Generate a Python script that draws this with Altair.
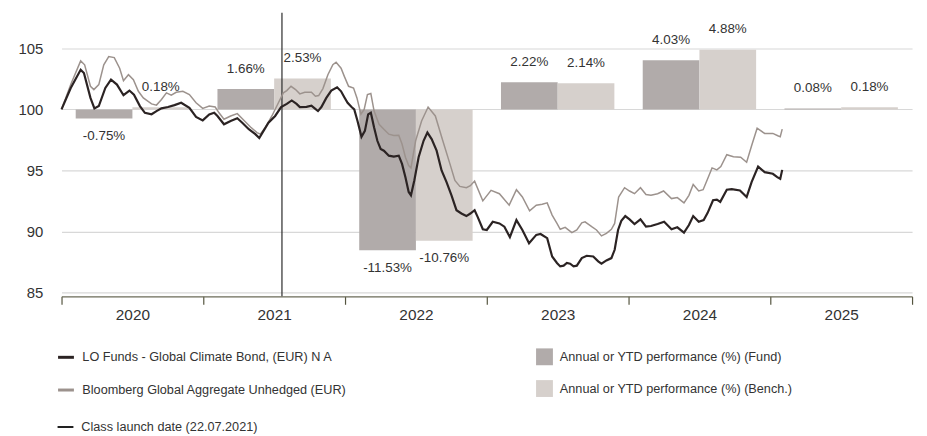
import altair as alt
import pandas as pd

# ---------------- data ----------------
years = [2020, 2021, 2022, 2023, 2024, 2025]
fund_perf = [-0.75, 1.66, -11.53, 2.22, 4.03, 0.08]
bench_perf = [0.18, 2.53, -10.76, 2.14, 4.88, 0.18]

fund_name = "LO Funds - Global Climate Bond, (EUR) N A"
bench_name = "Bloomberg Global Aggregate Unhedged (EUR)"
fund_bar_name = "Annual or YTD performance (%) (Fund)"
bench_bar_name = "Annual or YTD performance (%) (Bench.)"
launch_name = "Class launch date (22.07.2021)"
launch_t = [2021.555]  # 22.07.2021 as decimal year

year_ticks = [2020, 2021, 2022, 2023, 2024, 2025, 2026]
y_ticks = [85, 90, 95, 100, 105]

# observation times (decimal years) and index values
fund_t = [2020.000, 2020.065, 2020.135, 2020.158, 2020.204, 2020.232, 2020.263, 2020.309, 2020.349, 2020.391,
          2020.437, 2020.479, 2020.511, 2020.553, 2020.588, 2020.635, 2020.670, 2020.705, 2020.751, 2020.797,
          2020.844, 2020.902, 2020.949, 2020.996, 2021.042, 2021.077, 2021.100, 2021.146, 2021.193, 2021.240,
          2021.275, 2021.321, 2021.367, 2021.395, 2021.425, 2021.460, 2021.507, 2021.549, 2021.589, 2021.624,
          2021.658, 2021.681, 2021.728, 2021.763, 2021.786, 2021.809, 2021.833, 2021.868, 2021.903, 2021.944,
          2021.972, 2021.995, 2022.018, 2022.046, 2022.065, 2022.088, 2022.116, 2022.140, 2022.163, 2022.182,
          2022.205, 2022.228, 2022.251, 2022.274, 2022.309, 2022.344, 2022.379, 2022.402, 2022.426, 2022.449,
          2022.465, 2022.489, 2022.519, 2022.554, 2022.581, 2022.611, 2022.646, 2022.681, 2022.716, 2022.751,
          2022.786, 2022.821, 2022.856, 2022.884, 2022.914, 2022.937, 2022.972, 2023.000, 2023.042, 2023.089,
          2023.124, 2023.163, 2023.209, 2023.251, 2023.298, 2023.349, 2023.379, 2023.426, 2023.461, 2023.495,
          2023.518, 2023.542, 2023.565, 2023.588, 2023.612, 2023.635, 2023.670, 2023.705, 2023.751, 2023.786,
          2023.809, 2023.844, 2023.879, 2023.902, 2023.926, 2023.949, 2023.977, 2024.007, 2024.042, 2024.084,
          2024.123, 2024.158, 2024.205, 2024.251, 2024.303, 2024.344, 2024.391, 2024.426, 2024.456, 2024.495,
          2024.530, 2024.558, 2024.596, 2024.623, 2024.647, 2024.693, 2024.728, 2024.786, 2024.833, 2024.868,
          2024.914, 2024.960, 2025.018, 2025.049, 2025.070, 2025.084]
fund_v = [100.0, 101.75, 103.24, 102.97, 100.94, 100.08, 100.27, 101.75, 102.43, 102.03,
          101.16, 101.54, 101.2, 100.27, 99.72, 99.6, 99.86, 100.08, 100.19, 100.35,
          100.54, 100.13, 99.38, 99.1, 99.59, 99.72, 99.46, 98.78, 99.05, 99.27,
          98.91, 98.38, 97.97, 97.65, 98.24, 98.91, 99.46, 100.19, 100.45, 100.73,
          100.45, 100.19, 100.21, 100.3, 100.08, 99.86, 100.19, 100.94, 101.54, 101.81,
          101.48, 101.0, 100.54, 100.19, 100.0, 99.05, 97.75, 98.24, 99.59, 99.72,
          98.51, 97.43, 96.76, 96.62, 96.21, 96.13, 96.21, 95.54, 94.45, 93.24,
          92.97, 94.2, 96.08, 97.43, 98.1, 97.57, 96.62, 95.0, 94.05, 92.97,
          91.75, 91.48, 91.27, 91.48, 91.75, 91.16, 90.19, 90.13, 90.8, 90.67,
          90.4, 89.54, 90.94, 90.13, 89.05, 89.73, 89.8, 89.46, 87.96, 87.43,
          87.15, 87.21, 87.43, 87.37, 87.15, 87.21, 87.83, 88.02, 87.96, 87.56,
          87.37, 87.64, 87.83, 88.51, 90.13, 90.88, 91.27, 91.0, 90.62, 91.0,
          90.4, 90.46, 90.62, 90.8, 90.19, 90.35, 89.92, 90.54, 91.27, 90.8,
          90.94, 91.53, 92.56, 92.62, 92.43, 93.43, 93.48, 93.37, 92.83, 94.05,
          95.32, 94.86, 94.73, 94.45, 94.32, 95.05]

bench_t = [2020.000, 2020.065, 2020.135, 2020.163, 2020.204, 2020.228, 2020.263, 2020.298, 2020.333, 2020.372,
           2020.410, 2020.437, 2020.472, 2020.507, 2020.542, 2020.577, 2020.635, 2020.670, 2020.705, 2020.740,
           2020.774, 2020.809, 2020.856, 2020.902, 2020.949, 2020.996, 2021.042, 2021.084, 2021.111, 2021.146,
           2021.193, 2021.240, 2021.286, 2021.333, 2021.379, 2021.402, 2021.437, 2021.484, 2021.530, 2021.565,
           2021.589, 2021.619, 2021.651, 2021.681, 2021.716, 2021.763, 2021.791, 2021.814, 2021.844, 2021.879,
           2021.914, 2021.937, 2021.972, 2021.995, 2022.025, 2022.060, 2022.084, 2022.112, 2022.135, 2022.158,
           2022.182, 2022.205, 2022.240, 2022.274, 2022.309, 2022.344, 2022.379, 2022.402, 2022.426, 2022.449,
           2022.465, 2022.498, 2022.540, 2022.586, 2022.637, 2022.688, 2022.740, 2022.775, 2022.810, 2022.856,
           2022.884, 2022.914, 2022.972, 2023.030, 2023.089, 2023.158, 2023.209, 2023.251, 2023.302, 2023.349,
           2023.391, 2023.426, 2023.461, 2023.495, 2023.518, 2023.553, 2023.600, 2023.635, 2023.670, 2023.693,
           2023.740, 2023.774, 2023.809, 2023.844, 2023.879, 2023.902, 2023.930, 2023.972, 2024.007, 2024.042,
           2024.084, 2024.123, 2024.158, 2024.205, 2024.247, 2024.303, 2024.344, 2024.391, 2024.426, 2024.456,
           2024.495, 2024.526, 2024.558, 2024.589, 2024.623, 2024.651, 2024.693, 2024.740, 2024.791, 2024.833,
           2024.868, 2024.907, 2024.960, 2025.018, 2025.053, 2025.070, 2025.084]
bench_v = [100.0, 102.03, 103.97, 103.65, 101.89, 101.62, 102.03, 103.65, 104.32, 104.24,
           103.37, 102.35, 102.84, 102.43, 101.48, 100.94, 100.45, 100.35, 100.81, 101.35,
           101.16, 101.4, 101.48, 101.21, 100.54, 100.08, 100.27, 100.19, 99.72, 99.19,
           99.46, 99.65, 99.11, 98.56, 98.1, 97.97, 98.51, 99.46, 100.54, 101.35,
           101.54, 101.89, 101.62, 101.27, 101.4, 101.4, 101.08, 101.13, 101.7, 102.84,
           103.65, 103.86, 103.37, 102.7, 101.89, 101.75, 100.94, 99.6, 100.0, 101.21,
           101.3, 99.86, 98.78, 98.38, 97.97, 97.86, 97.89, 97.16, 96.08, 95.4,
           95.21, 97.43, 99.05, 100.19, 99.46, 97.5, 95.54, 94.18, 93.7, 93.59,
           93.75, 94.13, 92.51, 93.37, 93.1, 92.16, 93.43, 92.83, 91.7, 92.16,
           92.24, 92.35, 91.35, 90.67, 90.19, 90.35, 89.92, 90.13, 90.72, 90.8,
           90.4, 90.13, 89.65, 89.86, 90.19, 90.67, 92.83, 93.59, 93.32, 93.1,
           93.59, 93.03, 92.97, 93.1, 93.32, 92.7, 92.78, 92.35, 92.97, 93.86,
           93.32, 93.43, 94.32, 95.21, 95.05, 95.32, 96.29, 96.13, 96.08, 95.67,
           97.02, 98.46, 98.03, 98.03, 97.84, 97.76, 98.38]

# ---------------- tables ----------------
bar_rows = []
for i, yr in enumerate(years):
    for name, perf, start in [(fund_bar_name, fund_perf[i], 0.1), (bench_bar_name, bench_perf[i], 0.5)]:
        bar_rows.append({"series": name, "t": yr + start, "t2": yr + start + 0.4,
                         "mid": yr + start + 0.2, "base": 100.0, "top": 100.0 + perf,
                         "label": f"{perf:.2f}%", "pos": 1 if perf >= 0 else 0})
bars = pd.DataFrame(bar_rows)

fund_df = pd.DataFrame({"t": fund_t, "v": fund_v, "series": fund_name})
bench_df = pd.DataFrame({"t": bench_t, "v": bench_v, "series": bench_name})
launch_df = pd.DataFrame({"t": launch_t, "name": [launch_name]})

# ---------------- styling ----------------
FONT = "Liberation Sans"
TXT = "#333333"
W = 858

xs = alt.Scale(domain=[2020, 2026], nice=False, zero=False)
ys = alt.Scale(domain=[84.7, 107.9], nice=False, zero=False)

x_axis = alt.Axis(values=year_ticks,
                  labelExpr="datum.value < 2026 ? '' + datum.value : ''",
                  labelOffset=W / 12, labelFlush=False, labelOverlap=False,
                  grid=False, tickSize=8, tickColor="#55553f", tickWidth=1.2,
                  domainColor="#6b6b58", domainWidth=1.2,
                  labelFont=FONT, labelFontSize=15.5, labelColor=TXT, labelPadding=3)
y_axis = alt.Axis(values=y_ticks, domain=False, ticks=False, labelPadding=19,
                  labelFont=FONT, labelFontSize=15, labelColor=TXT,
                  gridColor="#d8d8d8", gridWidth=1.2)

LEG_FS = 12.8
line_legend = alt.Legend(title=None, orient="none", legendX=-5, legendY=338, direction="vertical",
                         symbolType="stroke", symbolSize=256, symbolStrokeWidth=3,
                         labelFont=FONT, labelFontSize=LEG_FS, labelColor=TXT, labelOffset=7,
                         rowPadding=16, labelLimit=600, padding=0)
bar_legend = alt.Legend(title=None, orient="none", legendX=478.7, legendY=338.5, direction="vertical",
                        symbolType="square", symbolSize=289, symbolStrokeWidth=0, symbolOpacity=1,
                        labelFont=FONT, labelFontSize=LEG_FS, labelColor=TXT, labelOffset=7,
                        rowPadding=15, labelLimit=600, padding=0)
launch_legend = alt.Legend(title=None, orient="none", legendX=-5, legendY=408.7,
                           symbolType="stroke", symbolSize=256, symbolStrokeWidth=2,
                           symbolStrokeColor="#222222",
                           labelFont=FONT, labelFontSize=LEG_FS, labelColor=TXT, labelOffset=7,
                           labelLimit=600, padding=0)

stroke_enc = alt.Stroke("series:N",
                        scale=alt.Scale(domain=[fund_name, bench_name], range=["#2b2323", "#9c928d"]),
                        legend=line_legend)

# ---------------- layers ----------------
bar = alt.Chart(bars).mark_bar().encode(
    x=alt.X("t:Q", scale=xs, axis=x_axis, title=None),
    x2="t2:Q",
    y=alt.Y("base:Q", scale=ys, axis=y_axis, title=None),
    y2="top:Q",
    fill=alt.Fill("series:N",
                  scale=alt.Scale(domain=[fund_bar_name, bench_bar_name], range=["#b1abaa", "#d6d0cc"]),
                  legend=bar_legend),
)

lab_pos = alt.Chart(bars).transform_filter("datum.pos == 1").mark_text(
    font=FONT, fontSize=13.5, color=TXT, baseline="alphabetic", dy=-16.5
).encode(x=alt.X("mid:Q", scale=xs), y=alt.Y("top:Q", scale=ys), text="label:N")

lab_neg = alt.Chart(bars).transform_filter("datum.pos == 0").mark_text(
    font=FONT, fontSize=13.5, color=TXT, baseline="alphabetic", dy=21.5
).encode(x=alt.X("mid:Q", scale=xs), y=alt.Y("top:Q", scale=ys), text="label:N")

rule = alt.Chart(launch_df).mark_rule(color="#2a2a2a", strokeWidth=1.2).encode(
    x=alt.X("t:Q", scale=xs),
    strokeDash=alt.StrokeDash("name:N", scale=alt.Scale(domain=[launch_name], range=[[1, 0]]),
                              legend=launch_legend),
)

bench_line = alt.Chart(bench_df).mark_line(strokeWidth=1.5).encode(
    x=alt.X("t:Q", scale=xs), y=alt.Y("v:Q", scale=ys), stroke=stroke_enc)
fund_line = alt.Chart(fund_df).mark_line(strokeWidth=2.2).encode(
    x=alt.X("t:Q", scale=xs), y=alt.Y("v:Q", scale=ys), stroke=stroke_enc)

chart = alt.layer(bar, lab_pos, lab_neg, rule, bench_line, fund_line).properties(
    width=W, height=286,
    padding={"left": 54, "top": 3, "right": 7, "bottom": 139},
    autosize=alt.AutoSizeParams(type="none"),
).configure_view(stroke=None)

chart.save("out.html", embed_options={"renderer": "svg", "actions": False})
